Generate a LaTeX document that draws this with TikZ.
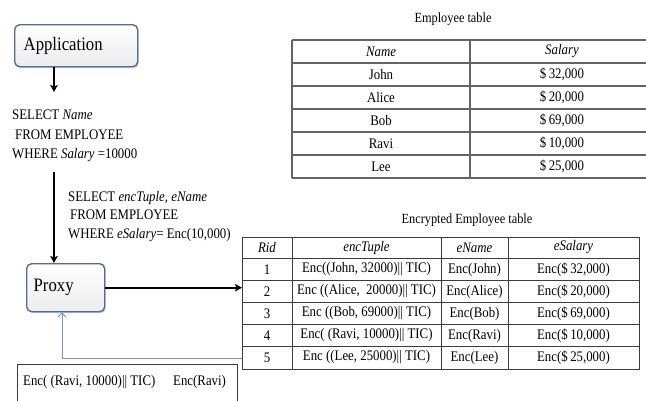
\documentclass[tikz,border=0pt]{standalone}
\usepackage{fontspec}
\setmainfont[FakeStretch=0.88]{Liberation Serif}
\usetikzlibrary{arrows.meta,shadows}
\definecolor{boxborder}{RGB}{80,110,150}
\definecolor{fb}{RGB}{110,150,205}
\definecolor{tline}{RGB}{60,60,60}
\definecolor{eline}{RGB}{100,100,100}
\begin{document}
\begin{tikzpicture}[x=1pt,y=-1pt,
  roundbox/.style={draw=boxborder, line width=1.4pt, rounded corners=5pt,
    top color=white, bottom color=blue!5!gray!14,
    drop shadow={opacity=0.4,shadow xshift=1pt,shadow yshift=-1.4pt},
    anchor=north west, inner sep=0pt, font=\fontsize{19}{22}\selectfont},
  txt/.style={font=\fontsize{14.6}{19.5}\selectfont, inner sep=0pt},
  cell/.style={font=\fontsize{14.6}{16}\selectfont, inner sep=0pt, anchor=center},
  ttl/.style={font=\fontsize{14}{16}\selectfont, inner sep=0pt, anchor=center},
  blackarrow/.style={line width=1.9pt, -{Stealth[length=7pt,width=7.5pt,inset=1.5pt]}},
  fbarrow/.style={draw=fb, line width=0.8pt, -{Straight Barb[length=4pt,width=8pt]}},
  tblline/.style={draw=tline, line width=0.9pt},
  empline/.style={draw=eline, line width=1.3pt},
]
\useasboundingbox (0,0) rectangle (646,400);

% Application and proxy boxes
\node[roundbox, minimum width=123pt, minimum height=42pt, text width=105pt, align=left] (app) at (14,24) {Application};
\node[roundbox, minimum width=78pt, minimum height=48pt, text width=64pt, align=left] (proxy) at (26,263) {Proxy};

% SQL texts
\node[txt, anchor=north west, align=left] (sql1) at (12,110) {SELECT \textit{Name}\\\hspace{3pt}FROM EMPLOYEE\\WHERE \textit{Salary} =10000};
\node[txt, anchor=north west, align=left, font=\fontsize{14.6}{18.5}\selectfont] (sql2) at (68,191) {SELECT \textit{encTuple, eName}\\\hspace{2pt}FROM EMPLOYEE\\WHERE \textit{eSalary}= Enc(10,000)};

% vertical arrows
\coordinate (colx) at (54,0);
\coordinate (a1e) at (54,92);
\coordinate (a2s) at (54,172);
\draw[blackarrow] (app.south -| colx) -- (a1e);
\draw[blackarrow] (a2s) -- (proxy.north -| colx);

% Employee table
\node[ttl] (emptitle) at (453,19) {Employee table};
\foreach \y in {40,63,86,109,132,155,178} \draw[empline] (292,\y) -- (652,\y);
\draw[empline] (292,40) -- (292,178);
\draw[empline] (470,40) -- (470,178);
\node[cell] (eh1) at (381,51.5) {\textit{Name}};
\node[cell] (eh2) at (562,51.5) {\textit{Salary}};
\foreach \n/\s [count=\i] in {John/32,Alice/20,Bob/69,Ravi/10,Lee/25} {
  \node[cell] (en\i) at (381,{51.5+23*\i}) {\n};
  \node[cell] (es\i) at (562,{51.5+23*\i}) {\$\,\s,000};
}

% Encrypted table
\node[ttl] (enctitle) at (467,220) {Encrypted Employee table};
\node[tblline, anchor=north west, minimum width=397pt, minimum height=132pt, inner sep=0pt] (enc) at (242,237) {};
\foreach \y in {258,280,302,324,346} \draw[tblline] (242,\y) -- (639,\y);
\foreach \x in {292,441,508} \draw[tblline] (\x,237) -- (\x,369);
\node[cell] (h1) at (267,247.5) {\textit{Rid}};
\node[cell] (h2) at (366.5,247.5) {\textit{encTuple}};
\node[cell] (h3) at (474.5,247.5) {\textit{eName}};
\node[cell] (h4) at (573.5,247.5) {\textit{eSalary}};
\foreach \t/\n/\s [count=\i] in {%
  {Enc((John, 32000)|| TIC)}/John/32,
  {Enc ((Alice,\ \ 20000)|| TIC)}/Alice/20,
  {Enc ((Bob, 69000)|| TIC)}/Bob/69,
  {Enc( (Ravi, 10000)|| TIC)}/Ravi/10,
  {Enc ((Lee, 25000)|| TIC)}/Lee/25} {
  \node[cell] (r\i) at (267,{247.5+22*\i}) {\i};
  \node[cell] (t\i) at (366.5,{247.5+22*\i}) {\t};
  \node[cell] (n\i) at (474.5,{247.5+22*\i}) {Enc(\n)};
  \node[cell] (s\i) at (573.5,{247.5+22*\i}) {Enc(\$\,\s,000)};
}

% connectors to/from table
\draw[blackarrow] (proxy.east) -- (proxy.east -| enc.west);
\coordinate (fbs) at (242,358);
\coordinate (fbc) at (62,358);
\draw[fbarrow] (fbs) -- (fbc) -- (fbc |- proxy.south);

% result box
\node[tblline, anchor=north west, minimum width=220pt, minimum height=50pt, inner sep=0pt] (result) at (17,364) {};
\node[txt, anchor=west] (res1) at (23,382) {Enc( (Ravi, 10000)|| TIC)};
\node[txt, anchor=west] (res2) at (173,382) {Enc(Ravi)};
\end{tikzpicture}
\end{document}
